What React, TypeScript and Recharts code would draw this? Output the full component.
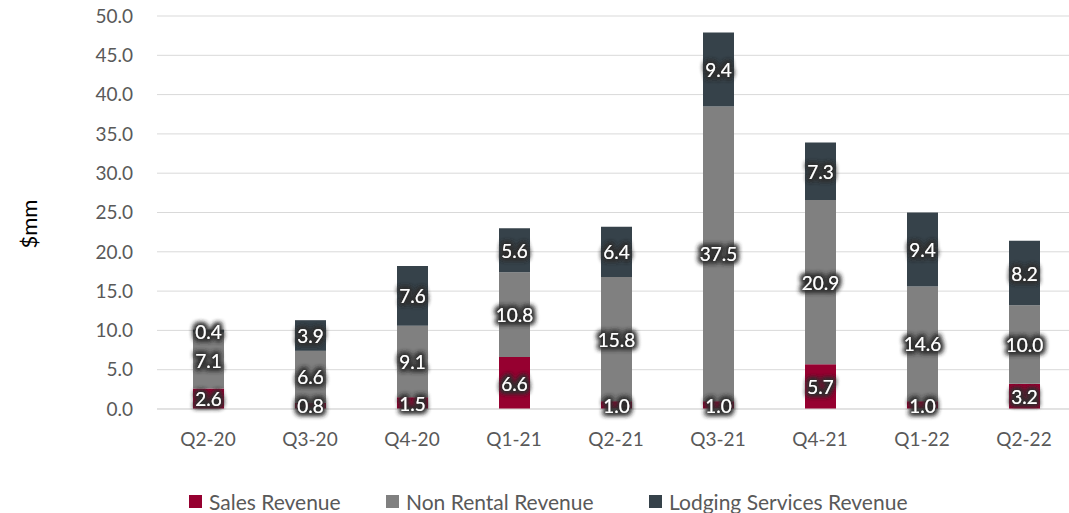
import { BarChart, Bar, XAxis, YAxis, CartesianGrid, Legend, LabelList } from "recharts";

const quarters = ["Q2-20", "Q3-20", "Q4-20", "Q1-21", "Q2-21", "Q3-21", "Q4-21", "Q1-22", "Q2-22"];
const salesRevenue = [2.6, 0.8, 1.5, 6.6, 1.0, 1.0, 5.7, 1.0, 3.2];
const nonRentalRevenue = [7.1, 6.6, 9.1, 10.8, 15.8, 37.5, 20.9, 14.6, 10.0];
const lodgingRevenue = [0.4, 3.9, 7.6, 5.6, 6.4, 9.4, 7.3, 9.4, 8.2];
const yTicks = [0, 5, 10, 15, 20, 25, 30, 35, 40, 45, 50];

const series = [
  { key: "sales", name: "Sales Revenue", color: "#960030", w: 197 },
  { key: "nonRental", name: "Non Rental Revenue", color: "#808080", w: 263 },
  { key: "lodging", name: "Lodging Services Revenue", color: "#36424a", w: 300 },
];

const data = quarters.map((q, i) => ({
  q,
  sales: salesRevenue[i],
  nonRental: nonRentalRevenue[i],
  lodging: lodgingRevenue[i],
}));

const FONT = "Lato, 'Open Sans', sans-serif";

const GlowLabel = (props: any) => {
  const { x, y, width, height, value } = props;
  return (
    <text
      x={x + width / 2}
      y={y + height / 2}
      textAnchor="middle"
      dominantBaseline="central"
      fill="#fff"
      fontSize={19}
      fontFamily={FONT}
      filter="url(#glow)"
    >
      {Number(value).toFixed(1)}
    </text>
  );
};

const LegendBox = () => (
  <div style={{ display: "flex", justifyContent: "flex-start", paddingLeft: 189, fontFamily: FONT, fontSize: 21, color: "#595959" }}>
    {series.map((s) => (
      <div key={s.key} style={{ display: "flex", alignItems: "center", width: s.w, whiteSpace: "nowrap" }}>
        <span style={{ width: 13, height: 13, background: s.color, marginRight: 7, display: "inline-block" }} />
        {s.name}
      </div>
    ))}
  </div>
);

const YTitle = () => (
  <text x={37} y={224} transform="rotate(-90 37 224)" textAnchor="middle" fill="#000" fontSize={22} fontFamily={FONT}>
    $mm
  </text>
);

export default function App() {
  return (
    <div style={{ position: "absolute", left: 0, top: 0, width: 1069, height: 513, background: "#fff", overflow: "hidden" }}>
      <svg width={0} height={0} style={{ position: "absolute" }}>
        <defs>
          <filter id="glow" x="-30%" y="-40%" width="160%" height="180%">
            <feMorphology in="SourceAlpha" operator="dilate" radius={1.5} result="d" />
            <feGaussianBlur in="d" stdDeviation={2.4} result="b" />
            <feFlood floodColor="#303030" floodOpacity={0.95} />
            <feComposite in2="b" operator="in" result="g" />
            <feMerge>
              <feMergeNode in="g" />
              <feMergeNode in="g" />
              <feMergeNode in="SourceGraphic" />
            </feMerge>
          </filter>
        </defs>
      </svg>
      <BarChart width={1075} height={513} data={data} margin={{ top: 16, right: 0, bottom: 49, left: 10 }} barCategoryGap="0%">
        <CartesianGrid vertical={false} stroke="#d9d9d9" />
        <XAxis
          dataKey="q"
          height={30}
          tickLine={false}
          tickMargin={18}
          axisLine={{ stroke: "#d9d9d9" }}
          tick={{ fill: "#595959", fontSize: 19, fontFamily: FONT }}
        />
        <YAxis
          width={147}
          domain={[0, 50]}
          ticks={yTicks}
          interval={0}
          tickFormatter={(v: number) => v.toFixed(1)}
          tickLine={false}
          axisLine={false}
          tickMargin={18}
          tick={{ fill: "#595959", fontSize: 19, fontFamily: FONT }}
          label={{ content: () => <YTitle /> }}
        />
        <Legend
          verticalAlign="bottom"
          wrapperStyle={{ top: 489, left: 0, width: 1069 }}
          content={() => <LegendBox />}
        />
        {series.map((s) => (
          <Bar key={s.key} dataKey={s.key} name={s.name} stackId="a" fill={s.color} barSize={31} isAnimationActive={false}>
            <LabelList dataKey={s.key} content={<GlowLabel />} />
          </Bar>
        ))}
      </BarChart>
    </div>
  );
}
